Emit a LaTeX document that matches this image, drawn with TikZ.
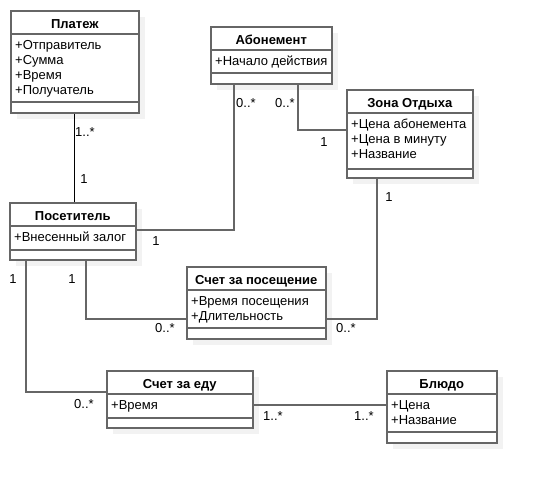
\documentclass[tikz,border=0pt]{standalone}
\usepackage{fontspec}
\setmainfont{Liberation Sans}
\usepackage{tikz}
\usetikzlibrary{positioning, calc}

\definecolor{linegray}{RGB}{102,102,102}
\definecolor{shadowgray}{RGB}{242,242,242}

% class box: name, x, y, width, height, separator, title, attributes
\newcommand{\umlclass}[8]{%
  \fill[shadowgray] (#2+7,#3+7) rectangle ++(#4,#5);
  \node[classbox, minimum width=#4pt, minimum height=#5pt] (#1) at (#2,#3) {};
  \node[classtitle] (#1-title) at ([yshift=-18pt]#1.north) {#7};
  \draw[classline] ([yshift=-24pt]#1.north west) -- ([yshift=-24pt]#1.north east);
  \node[classattr] (#1-attr) at ([yshift=-24pt]#1.north west) {#8};
  \draw[classline] ([yshift=-#6pt]#1.north west) -- ([yshift=-#6pt]#1.north east);
}

\begin{document}
\begin{tikzpicture}[x=1pt, y=-1pt,
    font=\fontsize{13}{15}\selectfont,
    classbox/.style={draw=linegray, fill=white, line width=1.6pt, anchor=north west, inner sep=0pt},
    classline/.style={draw=linegray, line width=1.6pt},
    classtitle/.style={anchor=base, font=\fontsize{13}{15}\selectfont\bfseries, inner sep=0pt},
    classattr/.style={anchor=north west, align=left, inner xsep=5pt, inner ysep=6pt},
    assoc/.style={draw=linegray, line width=1.6pt},
    mult/.style={inner sep=0pt}]
  \useasboundingbox (0,0) rectangle (536,482);

  \umlclass{platezh}{10}{10}{128}{102}{92}{Платеж}{+Отправитель\\+Сумма\\+Время\\+Получатель}
  \umlclass{abon}{210}{26}{121}{57}{47}{Абонемент}{+Начало действия}
  \umlclass{zona}{346}{89}{126}{88}{80}{Зона Отдыха}{+Цена абонемента\\+Цена в минуту\\+Название}
  \umlclass{posetitel}{9}{202}{126}{57}{48}{Посетитель}{+Внесенный залог}
  \umlclass{poseshch}{186}{266}{139}{72}{62}{Счет за посещение}{+Время посещения\\+Длительность}
  \umlclass{eda}{106}{370}{146}{57}{48}{Счет за еду}{+Время}
  \umlclass{bludo}{386}{370}{110}{72}{62}{Блюдо}{+Цена\\+Название}

  % associations
  \draw[line width=1.2pt] (platezh.south) -- (platezh.south |- posetitel.north);
  \draw[assoc] ([xshift=24pt]abon.south west) |- ([yshift=1.5pt]posetitel.east);
  \draw[assoc] ([xshift=88pt]abon.south west) |- ([yshift=4pt]zona.west);
  \draw[assoc] ([xshift=31pt]zona.south west) |- ([yshift=-16pt]poseshch.east);
  \draw[assoc] ([xshift=77pt]posetitel.south west) |- ([yshift=-16pt]poseshch.west);
  \draw[assoc] ([xshift=17pt]posetitel.south west) |- ([yshift=7.5pt]eda.west);
  \draw[assoc] ([yshift=-5.5pt]eda.east) -- ([yshift=-5.5pt]eda.east -| bludo.west);

  % multiplicities
  \node[mult] (m1) at (85,132) {1..*};
  \node[mult] (m2) at (84,179) {1};
  \node[mult] (m3) at (246,103) {0..*};
  \node[mult] (m4) at (285,103) {0..*};
  \node[mult] (m5) at (324,142) {1};
  \node[mult] (m6) at (389,197) {1};
  \node[mult] (m7) at (156,241) {1};
  \node[mult] (m8) at (13,279) {1};
  \node[mult] (m9) at (72,279) {1};
  \node[mult] (m10) at (165,328) {0..*};
  \node[mult] (m11) at (346,328) {0..*};
  \node[mult] (m12) at (84,404) {0..*};
  \node[mult] (m13) at (273,416) {1..*};
  \node[mult] (m14) at (364,416) {1..*};
\end{tikzpicture}
\end{document}
